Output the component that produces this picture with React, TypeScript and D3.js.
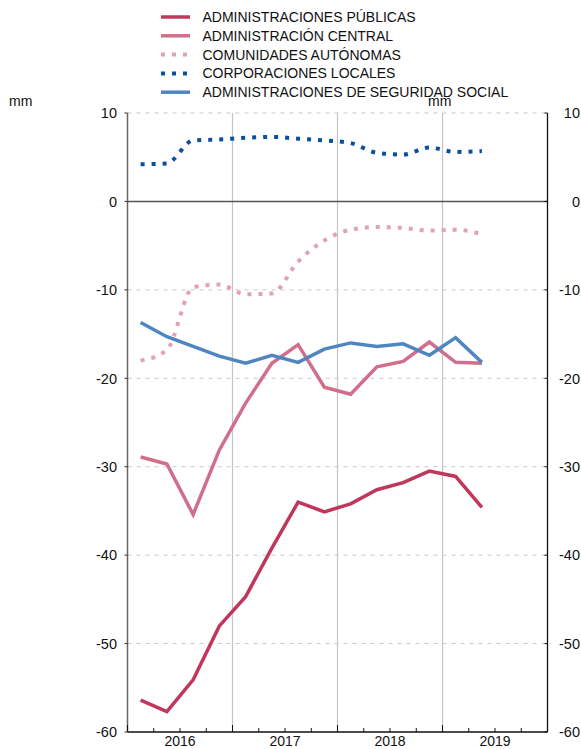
import { useEffect, useRef } from "react"
import * as d3 from "d3"

// quarterly periods, 2016 Q1 .. 2019 Q2
const periods = [
  "2016-1", "2016-2", "2016-3", "2016-4",
  "2017-1", "2017-2", "2017-3", "2017-4",
  "2018-1", "2018-2", "2018-3", "2018-4",
  "2019-1", "2019-2",
]
const years = [2016, 2017, 2018, 2019]
const yTicks = [10, 0, -10, -20, -30, -40, -50, -60]

const aapp = [-56.4, -57.7, -54.1, -48.0, -44.7, -39.2, -34.0, -35.1, -34.2, -32.6, -31.8, -30.5, -31.1, -34.6]
const central = [-28.9, -29.7, -35.4, -28.1, -22.8, -18.3, -16.2, -21.0, -21.8, -18.7, -18.1, -15.9, -18.2, -18.3]
const ccaa = [-18.0, -16.8, -9.7, -9.4, -10.5, -10.4, -6.8, -4.4, -3.2, -2.9, -3.0, -3.3, -3.2, -3.7]
const locales = [4.2, 4.3, 6.9, 7.0, 7.2, 7.3, 7.1, 6.9, 6.6, 5.5, 5.3, 6.1, 5.6, 5.7]
const seguridad = [-13.7, -15.3, -16.4, -17.5, -18.3, -17.4, -18.2, -16.7, -16.0, -16.4, -16.1, -17.4, -15.4, -18.2]

const seriesNames = [
  "ADMINISTRACIONES PÚBLICAS",
  "ADMINISTRACIÓN CENTRAL",
  "COMUNIDADES AUTÓNOMAS",
  "CORPORACIONES LOCALES",
  "ADMINISTRACIONES DE SEGURIDAD SOCIAL",
]

const W = 581
const H = 749
const FONT = "'Liberation Sans', Arial, Helvetica, sans-serif"

export default function App() {
  const svgRef = useRef<SVGSVGElement>(null)

  useEffect(() => {
    const svg = d3.select(svgRef.current)
    svg.selectAll("*").remove()

    const left = 127.5
    const right = 547.5
    const top = 113
    const bottom = 732

    const x = d3.scaleLinear().domain([2016, 2020]).range([left, right])
    const y = d3.scaleLinear().domain([-60, 10]).range([bottom, top])

    const px = (p: string) => {
      const [yr, q] = p.split("-").map(Number)
      return x(yr + (q - 0.5) / 4)
    }

    const series = [
      { name: seriesNames[0], values: aapp, color: "#c0375d", dotted: false },
      { name: seriesNames[1], values: central, color: "#d16e8b", dotted: false },
      { name: seriesNames[2], values: ccaa, color: "#e3a1b6", dotted: true },
      { name: seriesNames[3], values: locales, color: "#0b4f9f", dotted: true },
      { name: seriesNames[4], values: seguridad, color: "#4f86c1", dotted: false },
    ]

    const g = svg.append("g").style("font-family", FONT)

    // horizontal dashed grid
    g.selectAll(".hgrid")
      .data(yTicks.filter((t) => t !== 0 && t !== -60))
      .enter()
      .append("line")
      .attr("x1", left)
      .attr("x2", right)
      .attr("y1", (d) => y(d))
      .attr("y2", (d) => y(d))
      .attr("stroke", "#c8c8c8")
      .attr("stroke-dasharray", "4,5")

    // vertical year separators
    g.selectAll(".vgrid")
      .data([2017, 2018, 2019])
      .enter()
      .append("line")
      .attr("x1", (d) => x(d))
      .attr("x2", (d) => x(d))
      .attr("y1", top)
      .attr("y2", bottom)
      .attr("stroke", "#c4c4c4")
      .attr("stroke-width", 1.2)

    // zero line
    g.append("line")
      .attr("x1", left)
      .attr("x2", right)
      .attr("y1", y(0))
      .attr("y2", y(0))
      .attr("stroke", "#555")
      .attr("stroke-width", 1.5)

    // left axis
    g.append("line")
      .attr("x1", left)
      .attr("x2", left)
      .attr("y1", top)
      .attr("y2", bottom)
      .attr("stroke", "#666")
      .attr("stroke-width", 1.5)
    g.selectAll(".ltick")
      .data(yTicks)
      .enter()
      .append("line")
      .attr("x1", left - 3)
      .attr("x2", left)
      .attr("y1", (d) => y(d))
      .attr("y2", (d) => y(d))
      .attr("stroke", "#333")
    g.selectAll(".llab")
      .data(yTicks)
      .enter()
      .append("text")
      .attr("x", 117)
      .attr("y", (d) => y(d))
      .attr("dy", "0.36em")
      .attr("text-anchor", "end")
      .attr("font-size", 14.5)
      .attr("fill", "#111")
      .text((d) => d)

    // right axis
    g.append("line")
      .attr("x1", right)
      .attr("x2", right)
      .attr("y1", top)
      .attr("y2", bottom)
      .attr("stroke", "#111")
      .attr("stroke-width", 1.3)
    g.selectAll(".rtick")
      .data(yTicks)
      .enter()
      .append("line")
      .attr("x1", right - 3)
      .attr("x2", right)
      .attr("y1", (d) => y(d))
      .attr("y2", (d) => y(d))
      .attr("stroke", "#111")
    g.selectAll(".rlab")
      .data(yTicks)
      .enter()
      .append("text")
      .attr("x", 580)
      .attr("y", (d) => y(d))
      .attr("dy", "0.36em")
      .attr("text-anchor", "end")
      .attr("font-size", 14.5)
      .attr("fill", "#111")
      .text((d) => d)

    // bottom axis
    g.append("line")
      .attr("x1", left)
      .attr("x2", right)
      .attr("y1", bottom)
      .attr("y2", bottom)
      .attr("stroke", "#111")
      .attr("stroke-width", 1.5)
    const qTicks = d3.range(0, 17).map((i) => 2016 + i / 4)
    g.selectAll(".btick")
      .data(qTicks)
      .enter()
      .append("line")
      .attr("x1", (d) => x(d))
      .attr("x2", (d) => x(d))
      .attr("y1", bottom)
      .attr("y2", (d, i) => (i % 4 === 0 ? bottom - 7 : bottom - 4))
      .attr("stroke", "#111")
    g.selectAll(".blab")
      .data(years)
      .enter()
      .append("text")
      .attr("x", (d) => x(d + 0.5))
      .attr("y", 745.5)
      .attr("text-anchor", "middle")
      .attr("font-size", 14)
      .attr("fill", "#111")
      .text((d) => d)

    // units
    g.append("text").attr("x", 9).attr("y", 106).attr("font-size", 14).attr("fill", "#111").text("mm")
    g.append("text").attr("x", 428).attr("y", 106).attr("font-size", 14).attr("fill", "#111").text("mm")

    // lines
    series.forEach((s) => {
      const line = d3
        .line<number>()
        .x((_, i) => px(periods[i]))
        .y((d) => y(d))
        .curve(s.dotted ? d3.curveMonotoneX : d3.curveLinear)
      g.append("path")
        .datum(s.values)
        .attr("fill", "none")
        .attr("stroke", s.color)
        .attr("stroke-width", s.dotted ? 4 : 3.5)
        .attr("stroke-dasharray", s.dotted ? "4,7" : null)
        .attr("stroke-linejoin", "miter")
        .attr("d", line)
    })

    // legend
    const legend = g.append("g")
    series.forEach((s, i) => {
      const ly = 17 + i * 18.8
      legend
        .append("line")
        .attr("x1", 161)
        .attr("x2", 190)
        .attr("y1", ly)
        .attr("y2", ly)
        .attr("stroke", s.color)
        .attr("stroke-width", s.dotted ? 4 : 3.5)
        .attr("stroke-dasharray", s.dotted ? "4,7" : null)
      legend
        .append("text")
        .attr("x", 202.5)
        .attr("y", ly)
        .attr("dy", "0.36em")
        .attr("font-size", 14)
        .attr("fill", "#111")
        .text(s.name)
    })
  }, [])

  return (
    <svg
      ref={svgRef}
      width={W}
      height={H}
      style={{ position: "absolute", left: 0, top: 0, background: "#fff" }}
    />
  )
}
